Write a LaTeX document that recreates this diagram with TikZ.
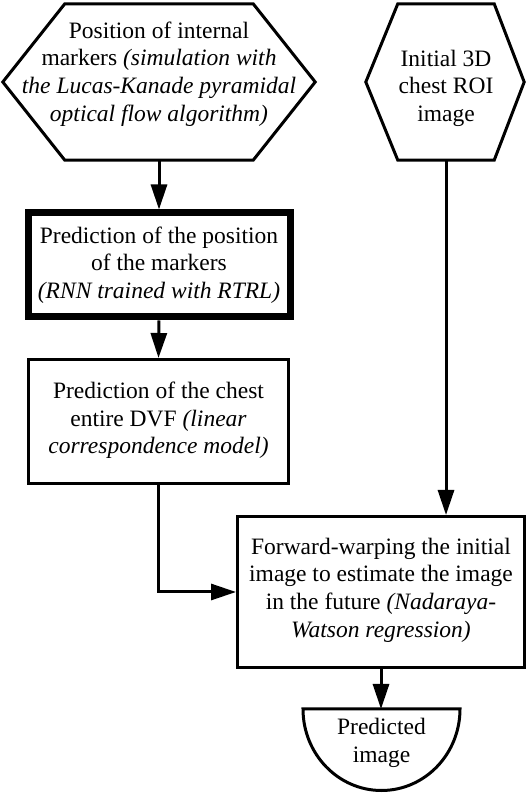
\documentclass[tikz,border=0pt]{standalone}
\usepackage{fontspec}
\setmainfont{Liberation Serif}
\usetikzlibrary{arrows.meta,calc}
\begin{document}
\begin{tikzpicture}[x=1pt,y=1pt,
  txt/.style={align=center,font=\fontsize{23.5}{27.6}\selectfont,inner sep=0pt},
  boxthin/.style={draw,line width=3pt,inner sep=0pt},
  boxthick/.style={draw,line width=7pt,inner sep=0pt},
  conn/.style={line width=3pt,-{Triangle[length=25pt,width=16pt]}},
  outline/.style={line width=3pt,line join=miter}]
\useasboundingbox (0,0) rectangle (528,794);
% hexagon 1
\node[inner sep=0pt,minimum width=188pt,minimum height=156pt] (h1) at (159,712) {};
\draw[outline] (h1.north west) -- (h1.north east) -- ($(h1.east)+(62,0)$) -- (h1.south east)
  -- (h1.south west) -- ($(h1.west)+(-62,0)$) -- cycle;
\node[txt] (h1t) at ($(h1)+(0,8)$)
  {Position of internal\\markers \textit{(simulation with}\\\textit{the Lucas-Kanade pyramidal}\\\textit{optical flow algorithm)}};
% hexagon 2
\node[inner sep=0pt,minimum width=96pt,minimum height=156pt] (h2) at (446,712) {};
\draw[outline] (h2.north west) -- (h2.north east) -- ($(h2.east)+(30,0)$) -- (h2.south east)
  -- (h2.south west) -- ($(h2.west)+(-32,0)$) -- cycle;
\node[txt] (h2t) at ($(h2)+(0,-6)$) {Initial 3D\\chest ROI\\image};
% boxes
\node[boxthick,minimum width=262pt,minimum height=104pt] (b2) at (159,529) {};
\node[txt] (b2t) at (b2) {Prediction of the position\\of the markers\\\textit{(RNN trained with RTRL)}};
\node[boxthin,minimum width=260pt,minimum height=124pt] (b3) at (158.5,372.5) {};
\node[txt] (b3t) at ($(b3)+(0,1)$) {Prediction of the chest\\entire DVF \textit{(linear}\\\textit{correspondence model)}};
\node[boxthin,minimum width=287pt,minimum height=151pt] (b4) at (381,202) {};
\node[txt] (b4t) at ($(b4)+(0,2)$) {Forward-warping the initial\\image to estimate the image\\in the future \textit{(Nadaraya-}\\\textit{Watson regression)}};
% predicted image (half disk)
\node[inner sep=0pt,outer sep=0pt,minimum width=157pt,minimum height=81.5pt,anchor=north] (p) at (381.5,85) {};
\draw[outline] (p.north west) -- (p.north east) arc[start angle=0,end angle=-180,x radius=78.5pt,y radius=81.5pt] -- cycle;
\node[txt] (ptxt) at (381.5,51) {Predicted\\image};
% connectors
\draw[conn] (h1.south) -- (b2.north);
\draw[conn] (b2.south) -- (b3.north);
\draw[conn] (b3.south) |- (b4.west);
\draw[conn] (h2.south) -- (h2.south |- b4.north);
\draw[conn] (b4.south) -- (b4.south |- p.north);
\end{tikzpicture}
\end{document}
